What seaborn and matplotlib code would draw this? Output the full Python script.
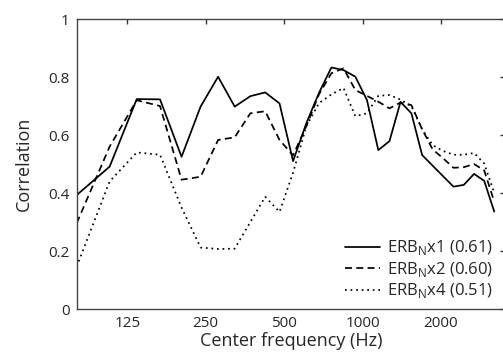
import numpy as np
import pandas as pd
import matplotlib
matplotlib.use('Agg')
import matplotlib.pyplot as plt
import seaborn as sns

# center frequencies (Hz), ERB-spaced channels
freqs = [80, 107, 136, 167, 202, 239, 279, 323, 371, 423, 480, 541, 608, 680, 759,
         845, 938, 1039, 1149, 1268, 1398, 1539, 1692, 1858, 2036, 2232, 2445, 2677, 2928, 3200]

corr_x1 = [0.393, 0.491, 0.724, 0.723, 0.525, 0.698, 0.801, 0.698, 0.734, 0.747,
           0.709, 0.510, 0.640, 0.745, 0.833, 0.824, 0.801, 0.721, 0.548, 0.579,
           0.714, 0.675, 0.531, 0.494, 0.458, 0.422, 0.428, 0.466, 0.442, 0.336]
corr_x2 = [0.296, 0.560, 0.720, 0.700, 0.446, 0.456, 0.583, 0.592, 0.675, 0.682,
           0.583, 0.530, 0.630, 0.740, 0.813, 0.830, 0.755, 0.735, 0.715, 0.692,
           0.712, 0.703, 0.620, 0.550, 0.520, 0.487, 0.489, 0.500, 0.478, 0.370]
corr_x4 = [0.146, 0.440, 0.540, 0.532, 0.350, 0.212, 0.207, 0.208, 0.300, 0.387,
           0.335, 0.470, 0.630, 0.710, 0.740, 0.762, 0.665, 0.675, 0.735, 0.738,
           0.722, 0.700, 0.620, 0.565, 0.545, 0.532, 0.532, 0.538, 0.502, 0.400]

labels = ['ERB$_\\mathrm{N}$x1 (0.61)', 'ERB$_\\mathrm{N}$x2 (0.60)', 'ERB$_\\mathrm{N}$x4 (0.51)']
xticks = [125, 250, 500, 1000, 2000]
yticks = [0, 0.2, 0.4, 0.6, 0.8, 1]
ytick_labels = ['0', '0.2', '0.4', '0.6', '0.8', '1']

df = pd.DataFrame({
    'freq': freqs * 3,
    'corr': corr_x1 + corr_x2 + corr_x4,
    'bw': [labels[0]] * len(freqs) + [labels[1]] * len(freqs) + [labels[2]] * len(freqs),
})

sns.set_style('white')
plt.rcParams['font.family'] = ['Open Sans', 'DejaVu Sans']
plt.rcParams['mathtext.fontset'] = 'custom'
plt.rcParams['mathtext.rm'] = 'Open Sans'

fig = plt.figure(figsize=(5.03, 3.62), dpi=100)
ax = fig.add_axes([0.1525, 0.1464, 0.852, 0.801])

sns.lineplot(data=df, x='freq', y='corr', hue='bw', style='bw',
             palette=['black'] * 3,
             dashes={labels[0]: '', labels[1]: (4, 2.5), labels[2]: (1, 2.2)},
             linewidth=1.25, ax=ax)

ax.set_xscale('log')
ax.set_xlim(80, 3527)
ax.set_ylim(0, 1)
ax.set_xticks(xticks)
ax.set_xticklabels([str(t) for t in xticks])
ax.minorticks_off()
ax.set_yticks(yticks)
ax.set_yticklabels(ytick_labels)
ax.tick_params(direction='in', length=3.5, width=1, color='#333333',
               top=True, right=True, labelsize=11, pad=5)
for s in ax.spines.values():
    s.set_visible(True)
    s.set_color('#444444')
    s.set_linewidth(1)

ax.set_xlabel('Center frequency (Hz)', fontsize=13, labelpad=1)
ax.set_ylabel('Correlation', fontsize=13, labelpad=11)

leg = ax.legend(loc='lower right', bbox_to_anchor=(0.995, -0.005), frameon=False,
                fontsize=12, handlelength=2.1, handletextpad=0.4, labelspacing=0.15,
                borderaxespad=0.2)

fig.savefig('out.png', dpi=100)
